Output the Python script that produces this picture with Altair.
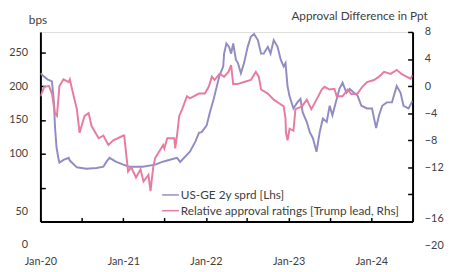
import altair as alt
import pandas as pd

spread_dates = ["2020-01-01","2020-01-14","2020-02-01","2020-02-21","2020-03-01","2020-03-05","2020-03-12","2020-03-20","2020-03-25","2020-04-12","2020-05-05","2020-05-10","2020-06-10","2020-07-22","2020-09-05","2020-10-05","2020-10-18","2020-11-01","2020-12-01","2021-01-01","2021-01-27","2021-03-28","2021-05-22","2021-06-22","2021-07-14","2021-08-26","2021-09-09","2021-10-22",
                "2021-11-15","2021-12-01","2021-12-13","2022-01-04","2022-01-18","2022-02-04","2022-02-18","2022-03-01","2022-03-18","2022-03-22","2022-04-01","2022-04-13","2022-04-22","2022-05-01","2022-05-13","2022-05-22","2022-06-04","2022-06-18","2022-07-04","2022-07-18","2022-08-01","2022-08-18","2022-09-01","2022-09-13","2022-10-01","2022-10-13","2022-10-27","2022-11-13","2022-11-27","2022-12-10","2022-12-18","2022-12-27",
                "2023-01-04","2023-01-22","2023-02-08","2023-02-22","2023-03-04","2023-03-22","2023-04-04","2023-04-18","2023-05-04","2023-05-18","2023-06-01","2023-06-18","2023-07-01","2023-07-13","2023-08-01","2023-08-13","2023-08-27","2023-09-13","2023-09-27","2023-10-18","2023-11-01","2023-11-18","2023-12-13","2024-01-04","2024-01-22","2024-02-04","2024-02-18","2024-03-09","2024-04-01","2024-04-22","2024-05-09","2024-05-22","2024-06-13","2024-07-01"]
spread_values = [219,215,210,207,175,142,110,94,87,91,94,90,80,78,79,81,88,94,88,84,81,81,84,88,90,94,88,103,
                 118,131,132,142,161,181,200,215,229,248,263,258,248,263,239,234,219,234,258,273,277,268,248,248,258,248,268,258,239,229,234,200,
                 186,167,176,181,161,147,132,123,103,132,152,147,171,157,181,196,205,190,196,190,186,171,167,167,138,157,171,176,176,200,190,171,167,178]

approval_dates = ["2020-01-01","2020-01-18","2020-02-08","2020-02-21","2020-03-05","2020-03-14","2020-03-25","2020-04-12","2020-05-05","2020-05-10","2020-05-27","2020-06-10","2020-06-22","2020-07-14","2020-08-01","2020-08-14","2020-09-14","2020-10-05","2020-10-27","2020-11-18","2021-01-01","2021-01-05","2021-01-22","2021-02-05","2021-02-26","2021-03-18","2021-03-31","2021-04-22","2021-05-01","2021-05-13","2021-05-22","2021-06-26","2021-07-01","2021-07-14","2021-08-14","2021-08-18","2021-08-26","2021-09-05","2021-09-18",
                  "2021-10-09","2021-10-22","2021-12-01","2021-12-27","2022-01-13","2022-01-27","2022-02-08","2022-03-01","2022-03-22","2022-04-10","2022-04-22","2022-05-01","2022-05-18","2022-06-18","2022-07-18","2022-08-09","2022-08-22","2022-09-01","2022-10-01","2022-10-27","2022-11-18","2022-12-10","2022-12-18","2022-12-20","2022-12-27",
                  "2023-01-05","2023-01-22","2023-01-31","2023-03-01","2023-03-22","2023-04-11","2023-05-04","2023-05-27","2023-06-08","2023-07-01","2023-07-22","2023-08-01","2023-08-27","2023-09-18","2023-10-05","2023-11-01","2023-11-22","2023-12-13","2024-01-13","2024-02-04","2024-02-26","2024-03-26","2024-04-22","2024-05-13","2024-06-04","2024-06-22","2024-07-01"]
approval_values = [-1.5,-0.1,0.0,-1.1,-4.0,-4.4,0.0,1.0,0.6,1.0,-1.5,-3.4,-6.9,-4.4,-4.0,-5.9,-7.7,-7.3,-8.7,-8.0,-7.3,-7.3,-12.6,-12.0,-13.5,-12.3,-14.1,-13.1,-15.5,-12.0,-10.6,-8.7,-9.2,-7.7,-7.7,-9.2,-7.3,-4.4,-3.4,
                   -1.5,-1.8,-1.1,-1.1,-0.1,1.4,0.9,1.8,1.4,2.1,3.1,0.3,0.3,0.6,0.9,2.1,1.4,-0.5,-1.1,-2.0,-2.5,-3.0,-4.8,-6.9,-8.0,
                   -6.3,-6.6,-3.4,-3.0,-2.0,-3.4,-2.0,-0.5,-0.1,-0.5,-0.4,-1.5,-1.5,-0.5,-1.2,-1.1,-0.1,0.6,0.9,1.4,2.1,1.8,2.4,1.8,1.4,1.1,1.6]

series_names = ["US-GE 2y sprd [Lhs]", "Relative approval ratings [Trump lead, Rhs]"]
series_colors = ["#918dc4", "#e87ba0"]
left_ticks = [0, 50, 100, 150, 200, 250]
right_ticks = [-20, -16, -12, -8, -4, 0, 4, 8]
x_ticks = ["2020-01-01","2020-07-01","2021-01-01","2021-07-01","2022-01-01","2022-07-01","2023-01-01","2023-07-01","2024-01-01","2024-07-01"]

FONT = "Lato"
TXT = "#404040"

df_s = pd.DataFrame({"date": pd.to_datetime(spread_dates), "v": spread_values, "s": series_names[0]})
df_a = pd.DataFrame({"date": pd.to_datetime(approval_dates), "v": approval_values, "s": series_names[1]})

xdom = [pd.Timestamp("2020-01-01").isoformat(), pd.Timestamp("2024-07-01").isoformat()]
xticks_dt = [alt.DateTime(year=int(d[:4]), month=int(d[5:7]), date=1) for d in x_ticks]

xenc = alt.X("date:T", scale=alt.Scale(domain=xdom),
             axis=alt.Axis(values=xticks_dt, format="%b-%y", title=None,
                           labelExpr="month(datum.value) == 0 ? timeFormat(datum.value, '%b-%y') : ''",
                           domainColor="black", domainWidth=2, tickColor="black", tickWidth=1.5,
                           tickSize=alt.ExprRef(expr="-4"), labelPadding=39, labelFont=FONT,
                           labelFontSize=11, labelColor=TXT, grid=False, labelFlush=False))

color = alt.Color("s:N", scale=alt.Scale(domain=series_names, range=series_colors), legend=None)

left = alt.Chart(df_s).mark_line(strokeWidth=2, clip=True).encode(
    x=xenc,
    y=alt.Y("v:Q", scale=alt.Scale(domain=[0, 280], nice=False),
            axis=alt.Axis(orient="left", values=left_ticks, title="bps", titleAngle=0,
                          titleX=-3, titleY=-9, titleAlign="center", titleBaseline="alphabetic",
                          titleFont=FONT, titleFontSize=12, titleFontWeight="normal", titleColor=TXT,
                          domainColor="black", domainWidth=2, tickColor="black", tickWidth=1.5,
                          tickSize=alt.ExprRef(expr="-5"), labelPadding=18,
                          labelOffset=alt.ConditionalAxisNumber(condition={"test": "datum.value <= 50", "value": 24}, value=0),
                          labelFont=FONT, labelFontSize=11, labelColor=TXT, grid=False)),
    color=color,
)

right = alt.Chart(df_a).mark_line(strokeWidth=2, clip=True).encode(
    x=xenc,
    y=alt.Y("v:Q", scale=alt.Scale(domain=[-20, 8], nice=False),
            axis=alt.Axis(orient="right", values=right_ticks, title="Approval Difference in Ppt",
                          titleAngle=0, titleX=15, titleY=-13, titleAlign="right",
                          titleBaseline="alphabetic", titleFont=FONT, titleFontSize=12,
                          titleFontWeight="normal", titleColor=TXT,
                          domainColor="black", domainWidth=2, tickColor="black", tickWidth=1.5,
                          tickSize=alt.ExprRef(expr="-5"), labelPadding=17,
                          labelOffset=alt.ConditionalAxisNumber(condition={"test": "datum.value <= -16", "value": 25}, value=0),
                          labelFont=FONT, labelFontSize=11, labelColor=TXT, grid=False)),
    color=color,
)

leg_df = pd.DataFrame({"s": series_names, "row": [0, 1]})
leg_y = alt.Y("row:Q", scale=alt.Scale(domain=[0, 1], range=[166, 182]), axis=None)
leg_lines = alt.Chart(leg_df).mark_rule(strokeWidth=1.5).encode(
    x=alt.value(124), x2=alt.value(141), y=leg_y, color=color)
leg_text = alt.Chart(leg_df).mark_text(align="left", baseline="middle", font=FONT, fontSize=12, color=TXT).encode(
    x=alt.value(143), y=leg_y, text="s:N")

legend = alt.layer(leg_lines, leg_text)

chart = alt.layer(left, right, legend).resolve_scale(y="independent").properties(
    width=379, height=193,
    padding={"left": 33, "top": 22, "right": 32, "bottom": 47},
    autosize=alt.AutoSizeParams(type="none"),
).configure_view(stroke=None).configure(background="white")

chart.save("out.html", embed_options={"renderer": "svg", "actions": False})
